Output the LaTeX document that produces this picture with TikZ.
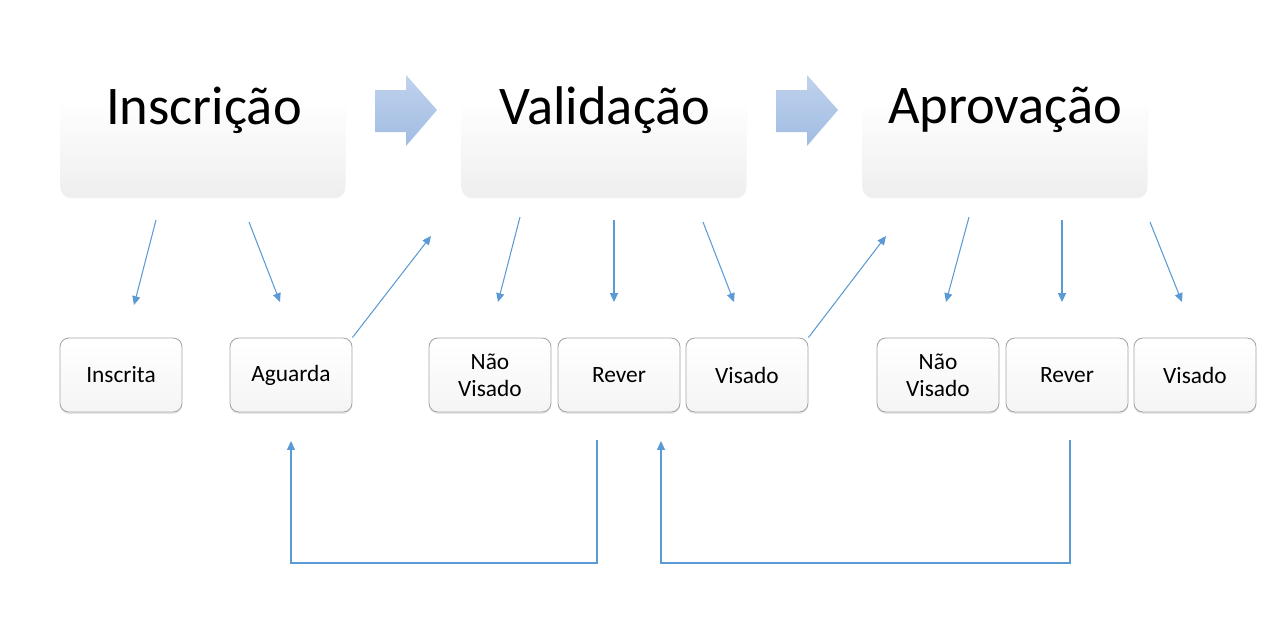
\documentclass[tikz,border=0pt]{standalone}
\usepackage{fontspec}
\setmainfont{Carlito}
\usetikzlibrary{arrows.meta,shadows}

\definecolor{linkblue}{RGB}{91,155,213}
\definecolor{chevtop}{RGB}{192,210,237}
\definecolor{chevbot}{RGB}{160,188,226}

\tikzset{
  stage/.style={rounded corners=6pt, minimum width=5.7cm, minimum height=1.94cm,
    top color=white, bottom color=gray!13, draw=none,
    drop shadow={shadow xshift=0pt, shadow yshift=-1pt, opacity=0.12}},
  stagetitle/.style={font=\fontsize{31}{34}\selectfont, inner sep=0pt},
  state/.style={rounded corners=5pt, minimum width=2.44cm, minimum height=1.48cm,
    top color=white, bottom color=gray!8, draw=gray!70, line width=0.5pt,
    align=center, font=\fontsize{13.3}{15.5}\selectfont,
    drop shadow={shadow xshift=0pt, shadow yshift=-1pt, opacity=0.2}},
  link/.style={draw=linkblue, line width=0.6pt, -{Triangle[length=5pt,width=4.5pt]}},
  chev/.style={top color=chevtop, bottom color=chevbot}
}

\begin{document}
\begin{tikzpicture}[x=0.02cm, y=-0.02cm]
\useasboundingbox (0,0) rectangle (1263,623);

% process stages
\node[stage] (ins) at (203,148) {};
\node[stage] (val) at (604,148) {};
\node[stage] (apr) at (1005,148) {};
\node[stagetitle] (insT) at (204,110) {Inscrição};
\node[stagetitle] (valT) at (605,110) {Validação};
\node[stagetitle] (aprT) at (1005,110) {Aprovação};

% chevrons
\foreach \cx in {375,776}
  \shade[chev] (\cx,90) -- ++(31,0) -- ++(0,-15) -- ++(31,35) -- ++(-31,36)
    -- ++(0,-14) -- ++(-31,0) -- cycle;

% states
\node[state] (inscrita) at (121,375) {Inscrita};
\node[state] (aguarda) at (291,375) {Aguarda};
\node[state] (naoA) at (490,375) {Não\\Visado};
\node[state] (reverA) at (619,375) {Rever};
\node[state] (visadoA) at (747,375) {Visado};
\node[state] (naoB) at (938,375) {Não\\Visado};
\node[state] (reverB) at (1067,375) {Rever};
\node[state] (visadoB) at (1195,375) {Visado};

% arrow ends
\path (156,220) coordinate (i1) (134,305) coordinate (i2)
      (249,222) coordinate (i3) (280,302) coordinate (i4)
      (431,236) coordinate (vIn)
      (520,217) coordinate (v1) (498,302) coordinate (v2)
      (614,220) coordinate (v3) (614,302) coordinate (v4)
      (703,222) coordinate (v5) (734,302) coordinate (v6)
      (886,236) coordinate (aIn)
      (969,217) coordinate (a1) (946,302) coordinate (a2)
      (1062,220) coordinate (a3) (1062,302) coordinate (a4)
      (1150,222) coordinate (a5) (1182,302) coordinate (a6)
      (597,440) coordinate (r1) (291,441) coordinate (r2)
      (1070,440) coordinate (r3) (661,441) coordinate (r4);

\draw[link] (i1) -- (i2);
\draw[link] (i3) -- (i4);
\draw[link] (aguarda.north east) -- (vIn);
\draw[link] (v1) -- (v2);
\draw[link] (v3) -- (v4);
\draw[link] (v5) -- (v6);
\draw[link] (visadoA.north east) -- (aIn);
\draw[link] (a1) -- (a2);
\draw[link] (a3) -- (a4);
\draw[link] (a5) -- (a6);

% return loops
\draw[link] (r1) -- ++(0,123) -| (r2);
\draw[link] (r3) -- ++(0,123) -| (r4);
\end{tikzpicture}
\end{document}
